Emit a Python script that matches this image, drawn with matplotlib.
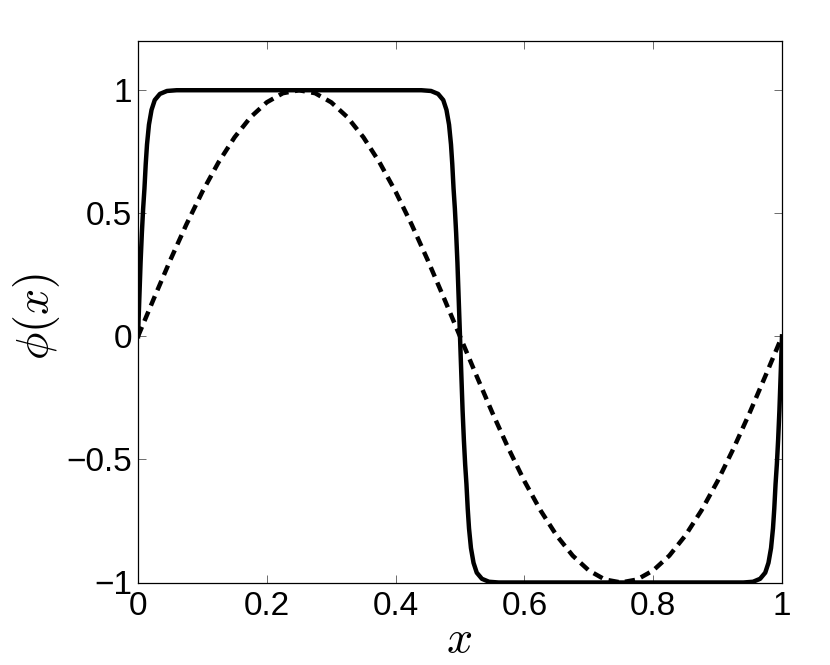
import matplotlib
matplotlib.use("Agg")
import matplotlib.pyplot as plt

# Values

# dashed curve, sampled every 0.025 in x
dash_x = [0.0, 0.025, 0.05, 0.075, 0.1, 0.125, 0.15, 0.175, 0.2, 0.225,
          0.25, 0.275, 0.3, 0.325, 0.35, 0.375, 0.4, 0.425, 0.45, 0.475,
          0.5, 0.525, 0.55, 0.575, 0.6, 0.625, 0.65, 0.675, 0.7, 0.725,
          0.75, 0.775, 0.8, 0.825, 0.85, 0.875, 0.9, 0.925, 0.95, 0.975, 1.0]
dash_y = [0.0, 0.156, 0.309, 0.454, 0.588, 0.707, 0.809, 0.891, 0.951, 0.988,
          1.0, 0.988, 0.951, 0.891, 0.809, 0.707, 0.588, 0.454, 0.309, 0.156,
          0.0, -0.156, -0.309, -0.454, -0.588, -0.707, -0.809, -0.891, -0.951, -0.988,
          -1.0, -0.988, -0.951, -0.891, -0.809, -0.707, -0.588, -0.454, -0.309, -0.156, 0.0]

# solid curve, denser near the steep fronts
solid_x = [0.0, 0.002, 0.004, 0.006, 0.008, 0.010, 0.012, 0.014, 0.017, 0.021,
           0.026, 0.034, 0.045, 0.06, 0.44, 0.455, 0.466, 0.474, 0.479, 0.483,
           0.486, 0.488, 0.490, 0.492, 0.494, 0.496, 0.498, 0.5, 0.502, 0.504,
           0.506, 0.508, 0.510, 0.512, 0.514, 0.517, 0.521, 0.526, 0.534, 0.545,
           0.56, 0.94, 0.955, 0.966, 0.974, 0.979, 0.983, 0.986, 0.988, 0.990,
           0.992, 0.994, 0.996, 0.998, 1.0]
solid_y = [0.0, 0.15, 0.3, 0.42, 0.52, 0.6, 0.7, 0.78, 0.86, 0.92,
           0.96, 0.985, 0.997, 1.0, 1.0, 0.997, 0.985, 0.96, 0.92, 0.86,
           0.78, 0.7, 0.6, 0.52, 0.42, 0.3, 0.15, 0.0, -0.15, -0.3,
           -0.42, -0.52, -0.6, -0.7, -0.78, -0.86, -0.92, -0.96, -0.985, -0.997,
           -1.0, -1.0, -0.997, -0.985, -0.96, -0.92, -0.86, -0.78, -0.7, -0.6,
           -0.52, -0.42, -0.3, -0.15, 0.0]

x_ticks = [0, 0.2, 0.4, 0.6, 0.8, 1]
x_tick_labels = ["0", "0.2", "0.4", "0.6", "0.8", "1"]
y_ticks = [-1, -0.5, 0, 0.5, 1]
y_tick_labels = ["\u22121", "\u22120.5", "0", "0.5", "1"]

# -----------------------------------------------------------------------------

plt.rcParams["font.family"] = ["Liberation Sans", "DejaVu Sans"]
plt.rcParams["mathtext.fontset"] = "cm"

fig = plt.figure(figsize=(8.3, 6.65), dpi=100)
ax = fig.add_axes([138 / 830, 1 - 582.5 / 665, 644 / 830, 541.5 / 665])

ax.plot(solid_x, solid_y, color="black", linewidth=3.2, solid_joinstyle="round")
# dash lengths are in units of the line width
ax.plot(dash_x, dash_y, color="black", linewidth=3.2, dashes=(2.3, 1.45))

ax.set_xlim(0, 1)
ax.set_ylim(-1, 1.2)
ax.set_xticks(x_ticks)
ax.set_xticklabels(x_tick_labels)
ax.set_yticks(y_ticks)
ax.set_yticklabels(y_tick_labels)

ax.tick_params(direction="in", length=6, width=0.6, labelsize=24,
               top=True, right=True, color="#555555")
ax.tick_params(axis="x", pad=6)
ax.tick_params(axis="y", pad=4)
for s in ax.spines.values():
    s.set_linewidth(0.9)

ax.set_xlabel(r"$x$", fontsize=33)
ax.set_ylabel(r"$\phi(x)$", fontsize=33)
ax.xaxis.set_label_coords(0.498, -0.065)
ax.yaxis.set_label_coords(-0.118, 0.49)

fig.savefig("out.png", dpi=100)
